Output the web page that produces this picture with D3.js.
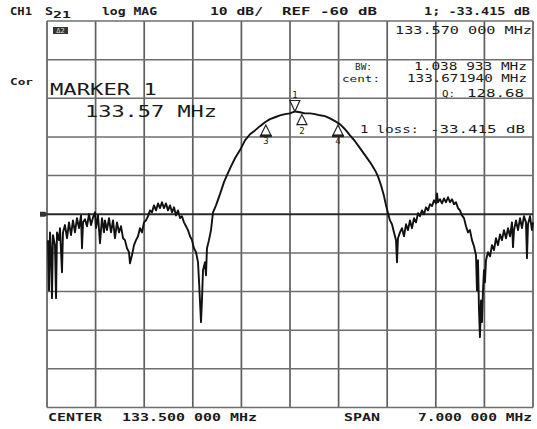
<!DOCTYPE html>
<html>
<head>
<meta charset="utf-8">
<script src="https://cdn.jsdelivr.net/npm/d3@7"></script>
<style>
  body { margin: 0; background: #fff; }
  text { font-family: "DejaVu Sans Mono", monospace; fill: #1a1a1a; }
</style>
</head>
<body>
<script>
// S21 trace (MHz, dB)
let traceFreq = [
  130.014, 130.029, 130.043, 130.058, 130.072, 130.086, 130.115, 130.130, 130.144, 130.173,
  130.187, 130.216, 130.230, 130.259, 130.288, 130.317, 130.346, 130.374, 130.403, 130.432,
  130.461, 130.490, 130.504, 130.519, 130.547, 130.576, 130.605, 130.634, 130.663, 130.691,
  130.706, 130.735, 130.763, 130.792, 130.821, 130.835, 130.864, 130.893, 130.922, 130.951,
  130.979, 131.008, 131.037, 131.066, 131.095, 131.123, 131.152, 131.181, 131.195, 131.224,
  131.253, 131.282, 131.311, 131.339, 131.368, 131.397, 131.426, 131.455, 131.484, 131.512,
  131.541, 131.570, 131.599, 131.628, 131.656, 131.685, 131.714, 131.743, 131.772, 131.800,
  131.829, 131.858, 131.887, 131.916, 131.944, 131.973, 132.002, 132.031, 132.060, 132.088,
  132.117, 132.146, 132.175, 132.189, 132.218, 132.232, 132.247, 132.276, 132.290, 132.304,
  132.333, 132.362, 132.391, 132.434, 132.492, 132.549, 132.593, 132.650, 132.708, 132.780,
  132.852, 132.924, 132.996, 133.068, 133.140, 133.212, 133.284, 133.356, 133.428, 133.500,
  133.572, 133.644, 133.716, 133.788, 133.860, 133.932, 134.004, 134.076, 134.148, 134.220,
  134.292, 134.364, 134.436, 134.508, 134.580, 134.652, 134.724, 134.767, 134.811, 134.854,
  134.883, 134.911, 134.940, 134.969, 134.998, 135.027, 135.041, 135.055, 135.084, 135.113,
  135.142, 135.171, 135.199, 135.228, 135.257, 135.286, 135.315, 135.344, 135.372, 135.401,
  135.430, 135.459, 135.488, 135.516, 135.545, 135.574, 135.603, 135.617, 135.632, 135.660,
  135.689, 135.718, 135.747, 135.776, 135.804, 135.833, 135.862, 135.891, 135.920, 135.948,
  135.977, 136.006, 136.035, 136.064, 136.092, 136.121, 136.150, 136.179, 136.193, 136.208,
  136.222, 136.236, 136.251, 136.265, 136.280, 136.294, 136.308, 136.323, 136.352, 136.381,
  136.409, 136.438, 136.467, 136.496, 136.525, 136.553, 136.582, 136.611, 136.640, 136.669,
  136.697, 136.712, 136.726, 136.755, 136.784, 136.813, 136.841, 136.870, 136.899, 136.913,
  136.928, 136.957, 136.985, 137.000
];
let traceDb = [
  -66.7, -79.7, -64.7, -69.3, -81.7, -65.4, -68.0, -81.7, -64.7, -66.7,
  -63.6, -75.0, -64.7, -62.8, -66.2, -62.1, -65.4, -61.6, -64.7, -61.0,
  -63.6, -60.3, -68.8, -62.1, -61.3, -63.1, -60.0, -62.8, -60.8, -59.5,
  -63.6, -60.3, -67.5, -61.0, -64.7, -61.6, -64.1, -61.0, -64.7, -61.6,
  -66.2, -62.1, -64.7, -63.1, -66.2, -66.7, -68.8, -69.8, -72.7, -70.6,
  -68.0, -66.7, -65.7, -63.6, -64.7, -62.1, -61.6, -60.5, -59.0, -59.5,
  -57.7, -59.0, -57.2, -58.4, -56.9, -58.4, -57.2, -59.0, -57.7, -59.5,
  -58.2, -60.3, -59.0, -61.0, -60.5, -62.1, -63.1, -64.1, -65.7, -66.7,
  -68.8, -69.8, -72.4, -77.1, -87.9, -82.3, -74.5, -72.4, -75.8, -68.8,
  -66.7, -64.1, -59.5, -57.7, -54.8, -51.7, -49.9, -47.6, -45.5, -43.4,
  -40.9, -39.3, -38.3, -37.2, -36.2, -35.4, -34.9, -34.4, -34.1, -33.9,
  -33.4, -33.6, -33.9, -33.9, -34.1, -34.4, -34.6, -35.2, -35.9, -36.7,
  -38.0, -39.6, -41.1, -42.9, -44.7, -46.5, -48.6, -50.2, -52.5, -55.3,
  -57.7, -59.7, -61.6, -62.6, -64.7, -66.7, -72.4, -66.2, -64.7, -63.6,
  -65.7, -62.6, -64.1, -61.6, -63.6, -61.0, -62.1, -59.7, -60.5, -59.0,
  -60.0, -58.2, -59.0, -57.4, -57.9, -56.4, -57.2, -54.6, -56.9, -56.1,
  -57.2, -55.9, -56.9, -55.6, -56.9, -56.1, -57.4, -56.9, -58.4, -59.0,
  -60.3, -61.0, -63.1, -64.7, -64.1, -66.7, -68.3, -70.6, -79.7, -71.9,
  -84.8, -91.8, -82.3, -87.9, -79.7, -74.5, -77.6, -71.9, -69.8, -70.9,
  -68.0, -69.3, -66.2, -68.0, -65.2, -66.7, -64.1, -66.2, -63.6, -65.7,
  -62.1, -68.5, -64.1, -61.6, -64.1, -61.0, -63.6, -60.5, -62.1, -71.4,
  -62.6, -60.5, -64.1, -62.1
];

// markers
let markerIds = ["1", "2", "3", "4"];
let markerFreq = [133.570, 133.672, 133.152, 134.191];
let markerDb = [-33.415, -33.7, -36.4, -36.4];

// grid: 10 divisions each way
let xTicks = d3.range(0, 11).map(i => 130 + i * 0.7);
let yTicks = d3.range(0, 11).map(i => -110 + i * 10);
let refLevel = -60;

let w = 537, h = 429;
let margin = {top: 21, right: 4, bottom: 21.5, left: 47};

let x = d3.scaleLinear().domain([130, 137]).range([margin.left, w - margin.right]);
let y = d3.scaleLinear().domain([-110, -10]).range([h - margin.bottom, margin.top]);

let svg = d3.select("body").append("svg").attr("width", w).attr("height", h);

// grid
svg.append("g").selectAll("line").data(xTicks).enter().append("line")
  .attr("x1", d => x(d)).attr("x2", d => x(d))
  .attr("y1", y(-10)).attr("y2", y(-110))
  .attr("stroke", "#5e5e5e").attr("stroke-width", 1.7);

svg.append("g").selectAll("line").data(yTicks).enter().append("line")
  .attr("x1", x(130)).attr("x2", x(137))
  .attr("y1", d => y(d)).attr("y2", d => y(d))
  .attr("stroke", d => d == refLevel ? "#2a2a2a" : "#6e6e6e")
  .attr("stroke-width", d => d == refLevel ? 1.9 : 1.5);

// reference position pointer on the left
svg.append("path")
  .attr("d", `M${x(130) - 7},${y(refLevel) - 2.5}h5l3,2.5l-3,2.5h-5z`)
  .attr("fill", "#333");

// trace
let pts = traceFreq.map((f, i) => [f, traceDb[i]]);
let line = d3.line().x(d => x(d[0])).y(d => y(d[1]));
svg.append("path").datum(pts)
  .attr("d", line)
  .attr("fill", "none")
  .attr("stroke", "#111")
  .attr("stroke-width", 1.9)
  .attr("stroke-linejoin", "round");

// markers
markerIds.forEach((id, i) => {
  let mx = x(markerFreq[i]), my = y(markerDb[i]);
  let g = svg.append("g");
  if (id == "1") {
    g.append("path").attr("d", `M${mx},${my}l-5,-11h10z`)
      .attr("fill", "#fff").attr("stroke", "#222").attr("stroke-width", 1.2);
    g.append("text").attr("x", mx).attr("y", my - 13)
      .attr("text-anchor", "middle").attr("font-size", 9).text(id);
  } else {
    let top = my + 2;
    g.append("path").attr("d", `M${mx},${top}l-5,10h10z`)
      .attr("fill", "#fff").attr("stroke", "#222").attr("stroke-width", 1.2);
    if (id != "2") {
      g.append("line").attr("x1", mx - 6).attr("x2", mx + 6)
        .attr("y1", top + 11).attr("y2", top + 11)
        .attr("stroke", "#222").attr("stroke-width", 2.4);
    }
    g.append("text").attr("x", mx).attr("y", top + 19)
      .attr("text-anchor", "middle").attr("font-size", 9).text(id);
  }
});

// annotation text
function label(tx, ty, str, size, len, bold) {
  let t = svg.append("text")
    .attr("x", tx).attr("y", ty)
    .attr("font-size", size)
    .attr("font-weight", bold ? "bold" : "normal")
    .text(str);
  if (len) t.attr("textLength", len).attr("lengthAdjust", "spacingAndGlyphs");
  return t;
}

// header
label(10, 15, "CH1", 10, 22, true);
label(45, 15, "S", 11, 8, true);
label(53, 18, "21", 8.5, 18, true);
label(102, 15, "log MAG", 10, 55, true);
label(210, 15, "10 dB/", 10, 53, true);
label(282, 15, "REF -60 dB", 10, 95, true);
label(424, 15, "1; -33.415 dB", 10, 106, true);

// active marker badge
svg.append("rect").attr("x", 53).attr("y", 27).attr("width", 15).attr("height", 7).attr("fill", "#333");
svg.append("text").attr("x", 60.5).attr("y", 33).attr("text-anchor", "middle")
  .attr("font-size", 7).style("fill", "#ddd").text("Δ2");

label(395, 34, "133.570 000 MHz", 10, 137);
label(10, 85, "Cor", 8, 23, true);
label(50, 95, "MARKER 1", 15, 107);
label(85, 117, "133.57 MHz", 15, 132);

// marker search readout
label(355, 70, "BW:", 9, 17);
label(414, 70, "1.038 933 MHz", 10, 113);
label(342, 82, "cent:", 9, 38);
label(407, 82, "133.671940 MHz", 10, 120);
label(442, 97, "Q:", 9, 13);
label(467, 97, "128.68", 10, 57);
label(360, 133, "1 loss:", 10, 59);
label(430, 133, "-33.415 dB", 10, 95);

// footer
label(48, 421, "CENTER", 10, 54, true);
label(122, 421, "133.500 000 MHz", 10, 135, true);
label(344, 421, "SPAN", 10, 36, true);
label(418, 421, "7.000 000 MHz", 10, 114, true);
</script>
</body>
</html>
